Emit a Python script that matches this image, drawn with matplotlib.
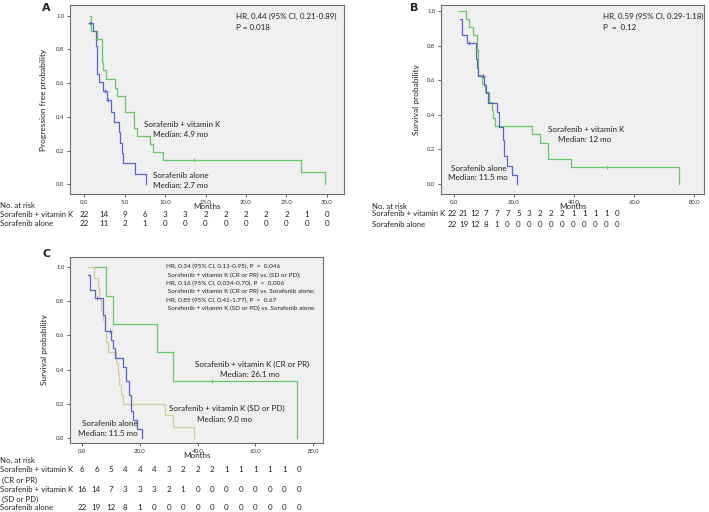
import matplotlib
matplotlib.use("Agg")
import matplotlib.pyplot as plt
import matplotlib.transforms as mtransforms
from matplotlib.ticker import FormatStrFormatter

plt.rcParams["font.family"] = ["Lato", "DejaVu Sans"]

W, H = 709, 512
GREEN = "#66c866"
BLUE = "#5b64c8"
TAN = "#d3cc98"
BG = "#f0f0f0"
FS = 5.8
FS_ROW = 5.6

# ── Panel A: progression free survival ────────────────────────────────────
a_vitk_t = [0.8, 0.9, 1.55, 2.2, 2.4, 2.7, 3.8, 4.1, 5.0, 6.2, 6.5, 8.2, 8.5, 9.8, 26.8, 29.8]
a_vitk_s = [1.0, 0.909, 0.864, 0.727, 0.677, 0.625, 0.573, 0.524, 0.43, 0.336, 0.287, 0.239, 0.19, 0.143, 0.071, 0.0]
a_alone_t = [0.6, 1.05, 1.45, 1.55, 1.65, 1.85, 2.4, 2.9, 3.3, 3.75, 4.3, 4.5, 4.7, 4.85, 6.3, 7.6]
a_alone_s = [0.955, 0.909, 0.818, 0.727, 0.655, 0.605, 0.555, 0.5, 0.43, 0.371, 0.309, 0.247, 0.185, 0.124, 0.062, 0.0]
a_vitk_cens_t, a_vitk_cens_s = [1.6, 13.6], [0.864, 0.143]
a_alone_cens_t, a_alone_cens_s = [0.7, 2.6, 3.0], [0.955, 0.555, 0.5]
a_risk_times = [0, 2.5, 5, 7.5, 10, 12.5, 15, 17.5, 20, 22.5, 25, 27.5, 30]
a_risk_vitk = [22, 14, 9, 6, 3, 3, 2, 2, 2, 2, 2, 1, 0]
a_risk_alone = [22, 11, 2, 1, 0, 0, 0, 0, 0, 0, 0, 0, 0]

# ── Panel B: overall survival ─────────────────────────────────────────────
b_vitk_t = [1.8, 4.0, 5.1, 6.2, 7.6, 7.9, 8.1, 9.2, 10.3, 11.8, 12.6, 13.1, 13.7, 25.9, 28.7, 31.4, 38.9, 75.0]
b_vitk_s = [1.0, 0.955, 0.909, 0.864, 0.773, 0.678, 0.63, 0.578, 0.53, 0.476, 0.428, 0.38, 0.335, 0.287, 0.239, 0.143, 0.096, 0.0]
b_alone_t = [2.0, 2.6, 4.4, 7.3, 7.8, 8.1, 10.0, 10.6, 11.4, 14.2, 15.1, 16.2, 16.8, 17.6, 19.2, 20.9]
b_alone_s = [0.955, 0.864, 0.818, 0.72, 0.672, 0.624, 0.572, 0.524, 0.468, 0.418, 0.331, 0.254, 0.16, 0.106, 0.05, 0.0]
b_vitk_cens_t, b_vitk_cens_s = [7.6, 50.9], [0.773, 0.096]
b_alone_cens_t, b_alone_cens_s = [5.1, 9.6], [0.818, 0.624]
b_risk_vitk = [22, 21, 12, 7, 7, 7, 5, 3, 2, 2, 2, 1, 1, 1, 1, 0]
b_risk_alone = [22, 19, 12, 8, 1, 0, 0, 0, 0, 0, 0, 0, 0, 0, 0, 0]

# ── Panel C: overall survival by response ─────────────────────────────────
c_cr_t = [4.5, 8.3, 10.6, 25.8, 31.4, 74.3]
c_cr_s = [1.0, 0.833, 0.667, 0.5, 0.333, 0.0]
c_sd_t = [2.2, 4.3, 5.5, 6.0, 6.6, 7.4, 7.8, 8.4, 9.0, 11.6, 12.3, 12.8, 13.4, 14.3, 28.7, 31.4, 38.9]
c_sd_s = [1.0, 0.9375, 0.875, 0.8125, 0.75, 0.6875, 0.625, 0.5625, 0.5, 0.4375, 0.375, 0.3125, 0.25, 0.2, 0.133, 0.067, 0.0]
c_cr_cens_t, c_cr_cens_s = [44.9], [0.333]
c_risk_times = [0, 5, 10, 15, 20, 25, 30, 35, 40, 45, 50, 55, 60, 65, 70, 75]
c_risk_cr = [6, 6, 5, 4, 4, 4, 3, 2, 2, 2, 1, 1, 1, 1, 1, 0]
c_risk_sd = [16, 14, 7, 3, 3, 3, 2, 1, 0, 0, 0, 0, 0, 0, 0, 0]
c_risk_alone = [22, 19, 12, 8, 1, 0, 0, 0, 0, 0, 0, 0, 0, 0, 0, 0]

fig = plt.figure(figsize=(W / 100, H / 100), dpi=100)


def box(left, top, right, bottom):
    return [left / W, 1 - bottom / H, (right - left) / W, (bottom - top) / H]


def ftext(x, y, s, **kw):
    kw.setdefault("fontsize", FS)
    kw.setdefault("va", "center")
    kw.setdefault("color", "#222222")
    fig.text(x / W, 1 - y / H, s, **kw)


def style(ax, xlim, ylim, xticks, ylabel, ylab_x):
    ax.set_facecolor(BG)
    ax.set_xlim(xlim)
    ax.set_ylim(ylim)
    ax.set_xticks(xticks)
    ax.set_yticks([0, 0.2, 0.4, 0.6, 0.8, 1.0])
    ax.xaxis.set_major_formatter(FormatStrFormatter("%.1f"))
    ax.yaxis.set_major_formatter(FormatStrFormatter("%.1f"))
    ax.tick_params(labelsize=4.3, length=2.5, width=0.6, pad=1.5,
                   colors="#444444", labelcolor="#333333")
    for sp in ax.spines.values():
        sp.set_color("#6e6e6e")
        sp.set_linewidth(0.8)
    ax.set_xlabel("Months", fontsize=FS, labelpad=-1, color="#222222")
    ax.set_ylabel(ylabel, fontsize=6.0, color="#222222")
    ax.yaxis.set_label_coords(ylab_x, 0.5)


def km(ax, t, s, color):
    ax.step(t, s, where="post", color=color, lw=0.9)


def cens(ax, t, s, color):
    ax.plot(t, s, ls="none", marker="+", ms=3.2, mew=0.7, color=color)


# Panel A
axA = fig.add_axes(box(70, 5, 344, 194))
style(axA, (-1.73, 32.1), (-0.058, 1.063), [0, 5, 10, 15, 20, 25, 30],
      "Progression free probability", (46.7 - 70) / 274)
km(axA, a_vitk_t, a_vitk_s, GREEN)
km(axA, a_alone_t, a_alone_s, BLUE)
cens(axA, a_vitk_cens_t, a_vitk_cens_s, GREEN)
cens(axA, a_alone_cens_t, a_alone_cens_s, BLUE)

ftext(42, 8, "A", fontsize=8, fontweight="bold", family="DejaVu Sans")
ftext(236, 16.7, "HR, 0.44 (95% CI, 0.21-0.89)")
ftext(236, 27, "P = 0.018")
ftext(144.3, 124.7, "Sorafenib + vitamin K")
ftext(153.3, 134.7, "Median: 4.9 mo")
ftext(152.7, 176, "Sorafenib alone")
ftext(152.7, 186, "Median: 2.7 mo")

trA = mtransforms.blended_transform_factory(axA.transData, fig.transFigure)
ftext(0, 205.7, "No. at risk", fontsize=FS_ROW)
ftext(0, 214.7, "Sorafenib + vitamin K", fontsize=FS_ROW)
ftext(0, 223.3, "Sorafenib alone", fontsize=FS_ROW)
for t, n1, n2 in zip(a_risk_times, a_risk_vitk, a_risk_alone):
    axA.text(t, 1 - 214.7 / H, str(n1), transform=trA, fontsize=FS,
             ha="center", va="center", color="#222222")
    axA.text(t, 1 - 223.3 / H, str(n2), transform=trA, fontsize=FS,
             ha="center", va="center", color="#222222")

# Panel B
axB = fig.add_axes(box(441, 5, 704, 194))
style(axB, (-4.3, 83.3), (-0.058, 1.035), [0, 20, 40, 60, 80],
      "Survival probability", (420 - 441) / 263)
km(axB, b_vitk_t, b_vitk_s, GREEN)
km(axB, b_alone_t, b_alone_s, BLUE)
cens(axB, b_vitk_cens_t, b_vitk_cens_s, GREEN)
cens(axB, b_alone_cens_t, b_alone_cens_s, BLUE)

ftext(410, 8, "B", fontsize=8, fontweight="bold", family="DejaVu Sans")
ftext(603.3, 16.7, "HR, 0.59 (95% CI, 0.29-1.18)")
ftext(603.3, 27, "P  =  0.12")
ftext(547.7, 130, "Sorafenib + vitamin K")
ftext(558.3, 140, "Median: 12 mo")
ftext(450.7, 168.3, "Sorafenib alone")
ftext(447.7, 178, "Median: 11.5 mo")

ftext(371.7, 206.7, "No. at risk", fontsize=FS_ROW)
ftext(371.7, 214, "Sorafenib + vitamin K", fontsize=FS_ROW)
ftext(371.7, 224.3, "Sorafenib alone", fontsize=FS_ROW)
for i, (n1, n2) in enumerate(zip(b_risk_vitk, b_risk_alone)):
    ftext(452.5 + 10.98 * i, 214, str(n1), ha="center")
    ftext(452.5 + 10.98 * i, 224.3, str(n2), ha="center")

# Panel C
axC = fig.add_axes(box(70, 257, 323, 443))
style(axC, (-4.15, 83.4), (-0.029, 1.058), [0, 20, 40, 60, 80],
      "Survival probability", (48.3 - 70) / 253)
km(axC, c_sd_t, c_sd_s, TAN)
km(axC, b_alone_t, b_alone_s, BLUE)
km(axC, c_cr_t, c_cr_s, GREEN)
cens(axC, b_alone_cens_t, b_alone_cens_s, BLUE)
cens(axC, c_cr_cens_t, c_cr_cens_s, GREEN)

ftext(42.7, 254, "C", fontsize=8, fontweight="bold", family="DejaVu Sans")
hr_lines = [
    "HR, 0.34 (95% CI, 0.11-0.95), P  =  0.046",
    " Sorafenib + vitamin K (CR or PR) vs. (SD or PD);",
    "HR, 0.16 (95% CI, 0.034-0.70), P  =  0.006",
    " Sorafenib + vitamin K (CR or PR) vs. Sorafenib alone;",
    "HR, 0.85 (95% CI, 0.41-1.77), P  =  0.67",
    " Sorafenib + vitamin K (SD or PD) vs. Sorafenib alone",
]
for i, line in enumerate(hr_lines):
    ftext(165.7, 266.7 + 8.33 * i, line, fontsize=4.6)
ftext(195, 364.3, "Sorafenib + vitamin K (CR or PR)")
ftext(220, 374.3, "Median: 26.1 mo")
ftext(169.3, 408.3, "Sorafenib + vitamin K (SD or PD)")
ftext(196.7, 419, "Median: 9.0 mo")
ftext(81.7, 423.3, "Sorafenib alone")
ftext(78.3, 433.3, "Median: 11.5 mo")

trC = mtransforms.blended_transform_factory(axC.transData, fig.transFigure)
ftext(0, 460.7, "No. at risk", fontsize=FS_ROW)
ftext(0, 470, "Sorafenib + vitamin K", fontsize=FS_ROW)
ftext(0, 480.7, " (CR or PR)", fontsize=FS_ROW)
ftext(0, 489.3, "Sorafenib + vitamin K", fontsize=FS_ROW)
ftext(0, 499, " (SD or PD)", fontsize=FS_ROW)
ftext(0, 507.3, "Sorafenib alone", fontsize=FS_ROW)
for t, n1, n2, n3 in zip(c_risk_times, c_risk_cr, c_risk_sd, c_risk_alone):
    for y, n in ((470, n1), (489.3, n2), (507.3, n3)):
        axC.text(t, 1 - y / H, str(n), transform=trC, fontsize=FS,
                 ha="center", va="center", color="#222222")

fig.savefig("out.png", dpi=100)
